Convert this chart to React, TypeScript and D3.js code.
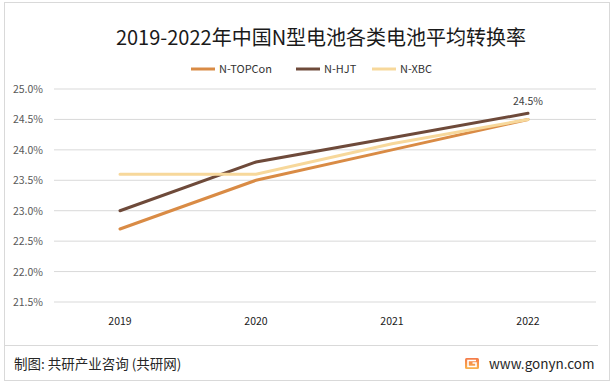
import React from "react";
import * as d3 from "d3";

const years = ["2019", "2020", "2021", "2022"];
const topcon = [22.7, 23.5, 24.0, 24.5];
const hjt = [23.0, 23.8, 24.2, 24.6];
const xbc = [23.6, 23.6, 24.1, 24.5];
const yTicks = [21.5, 22.0, 22.5, 23.0, 23.5, 24.0, 24.5, 25.0];
const seriesNames = ["N-TOPCon", "N-HJT", "N-XBC"];
const seriesColors = ["#D98B45", "#6E4A3A", "#F7D89B"];
const title = "2019-2022年中国N型电池各类电池平均转换率";
const source = "制图: 共研产业咨询 (共研网)";
const site = "www.gonyn.com";

export default function App() {
  const W = 613, H = 385;
  const x = d3.scaleBand().domain(years).range([52, 596]);
  const y = d3.scaleLinear().domain([21.5, 25.0]).range([302, 89]);
  const line = d3
    .line<number>()
    .x((_, i) => (x(years[i]) as number) + x.bandwidth() / 2)
    .y((v) => y(v));
  const series = [topcon, hjt, xbc];
  const font = "'Microsoft YaHei','Noto Sans CJK SC','DejaVu Sans',sans-serif";
  const legendX = [191, 296, 372];
  return (
    <svg
      width={W}
      height={H}
      style={{ position: "absolute", left: 0, top: 0, background: "#fff" }}
      fontFamily={font}
    >
      <defs>
        <linearGradient id="lg" x1="0" y1="0" x2="0" y2="1">
          <stop offset="0" stopColor="#F47A4A" />
          <stop offset="1" stopColor="#F9B24B" />
        </linearGradient>
      </defs>
      <rect x={4.5} y={2.5} width={605} height={378} fill="#fff" stroke="#d9d9d9" />
      <text x={321} y={45} textAnchor="middle" fontSize={20} fill="#1a1a1a">
        {title}
      </text>
      {seriesNames.map((n, i) => (
        <g key={n}>
          <line
            x1={legendX[i]}
            x2={legendX[i] + 24}
            y1={69}
            y2={69}
            stroke={seriesColors[i]}
            strokeWidth={3}
          />
          <text x={legendX[i] + 28} y={73} fontSize={11} fill="#333">
            {n}
          </text>
        </g>
      ))}
      {yTicks.map((t) => (
        <g key={t}>
          <line x1={54} x2={596} y1={y(t)} y2={y(t)} stroke="#d9d9d9" strokeWidth={1} />
          <text x={43} y={y(t) + 4} textAnchor="end" fontSize={10.5} fill="#595959">
            {d3.format(".1f")(t) + "%"}
          </text>
        </g>
      ))}
      {years.map((yr) => (
        <text
          key={yr}
          x={(x(yr) as number) + x.bandwidth() / 2}
          y={325}
          textAnchor="middle"
          fontSize={10.5}
          fill="#1a1a1a"
        >
          {yr}
        </text>
      ))}
      {series.map((s, i) => (
        <path
          key={i}
          d={line(s) || ""}
          fill="none"
          stroke={seriesColors[i]}
          strokeWidth={3}
          strokeLinecap="round"
        />
      ))}
      <text
        x={(x("2022") as number) + x.bandwidth() / 2}
        y={y(24.5) - 14}
        textAnchor="middle"
        fontSize={10.5}
        fill="#404040"
      >
        {d3.format(".1f")(xbc[3]) + "%"}
      </text>
      <line x1={5} x2={598} y1={345.5} y2={345.5} stroke="#d9d9d9" />
      <text x={14} y={369} fontSize={13.5} fill="#262626">
        {source}
      </text>
      <rect x={465} y={358} width={14} height={11} rx={1.5} fill="url(#lg)" />
      <path
        d="M476 360.5 H468 V366.5 H476 V363 H472.5"
        fill="none"
        stroke="#fff"
        strokeWidth={1.6}
      />
      <text x={489} y={369} fontSize={13.5} fill="#262626">
        {site}
      </text>
    </svg>
  );
}
